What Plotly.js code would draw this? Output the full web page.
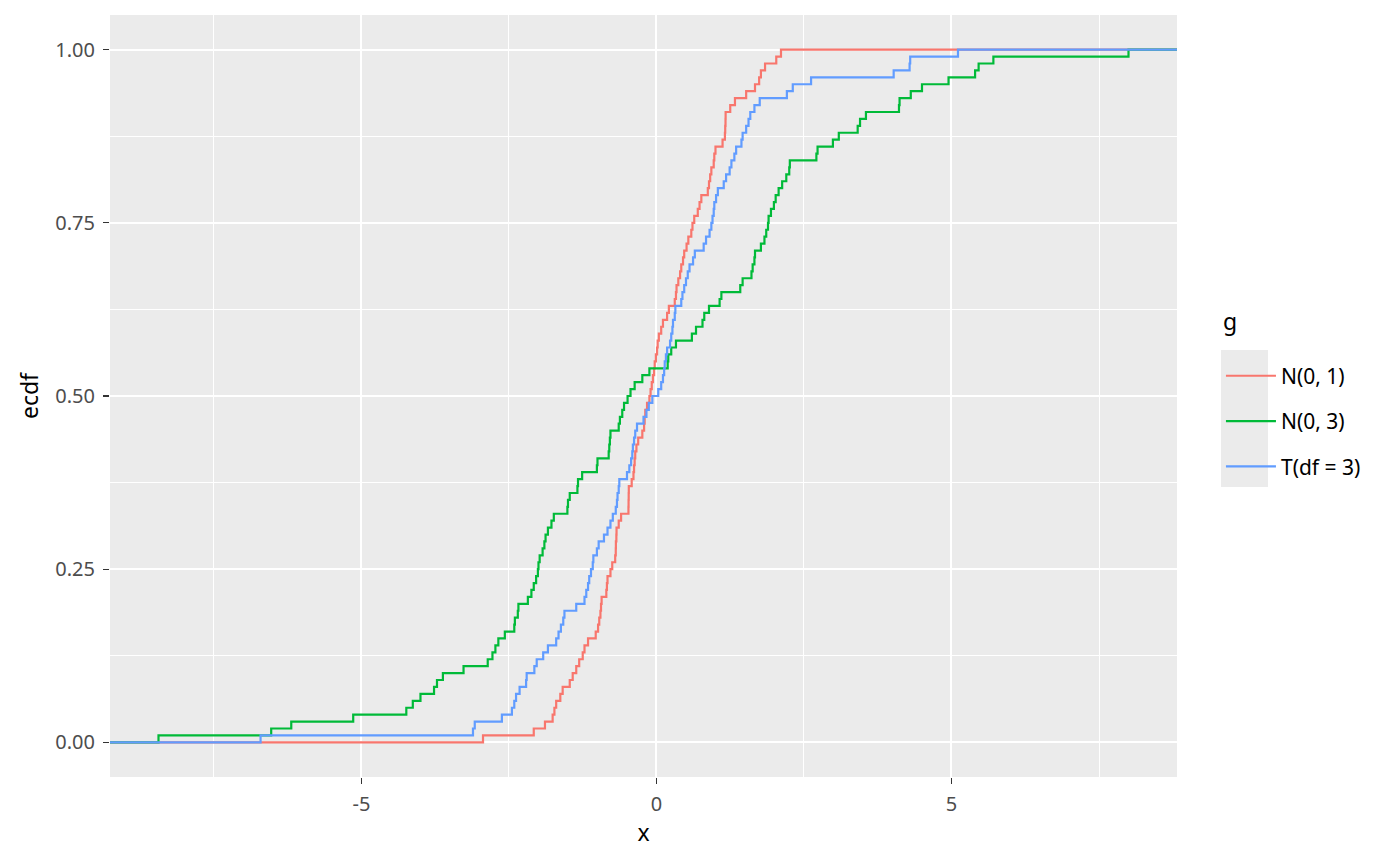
<!DOCTYPE html>
<html>
<head>
<meta charset="utf-8">
<script src="https://cdn.plot.ly/plotly-3.0.1.min.js"></script>
<style>
  html, body { margin: 0; padding: 0; background: #ffffff; }
  #chart { width: 1400px; height: 866px; }
</style>
</head>
<body>
<div id="chart"></div>
<script>
// Group names (legend labels)
const groups = ["N(0, 1)", "N(0, 3)", "T(df = 3)"];
const groupColors = ["#F8766D", "#00BA38", "#619CFF"];
const legendTitle = "g";

// Sorted sample values (100 per group)
const sampleN01 = [
  -2.94, -2.08, -1.89, -1.76, -1.73, -1.70, -1.63, -1.59, -1.47, -1.42,
  -1.36, -1.31, -1.25, -1.22, -1.16, -1.03, -0.99, -0.97, -0.95, -0.94,
  -0.93, -0.85, -0.84, -0.83, -0.78, -0.75, -0.70, -0.69, -0.688, -0.68,
  -0.677, -0.64, -0.60, -0.475, -0.473, -0.471, -0.469, -0.42, -0.39, -0.38,
  -0.37, -0.36, -0.34, -0.31, -0.24, -0.21, -0.20, -0.19, -0.16, -0.12,
  -0.10, -0.08, -0.06, -0.04, -0.03, -0.01, 0.01, 0.02, 0.04, 0.08,
  0.11, 0.18, 0.21, 0.31, 0.33, 0.34, 0.37, 0.40, 0.42, 0.45,
  0.47, 0.51, 0.54, 0.59, 0.61, 0.64, 0.70, 0.73, 0.76, 0.87,
  0.89, 0.91, 0.93, 0.97, 0.98, 1.00, 1.12, 1.16, 1.165, 1.17,
  1.172, 1.25, 1.33, 1.52, 1.67, 1.74, 1.77, 1.84, 2.03, 2.11
];
const sampleN03 = [
  -8.44, -6.53, -6.19, -5.14, -4.24, -4.13, -4.00, -3.77, -3.72, -3.62,
  -3.27, -2.86, -2.78, -2.73, -2.68, -2.57, -2.41, -2.40, -2.35, -2.34,
  -2.18, -2.12, -2.08, -2.04, -2.01, -2.00, -1.98, -1.93, -1.90, -1.88,
  -1.84, -1.78, -1.74, -1.51, -1.50, -1.47, -1.34, -1.33, -1.26, -1.01,
  -1.00, -0.81, -0.80, -0.79, -0.78, -0.64, -0.62, -0.58, -0.55, -0.49,
  -0.44, -0.37, -0.24, -0.12, 0.19, 0.20, 0.25, 0.33, 0.60, 0.67,
  0.78, 0.81, 0.89, 1.07, 1.10, 1.42, 1.46, 1.61, 1.63, 1.66,
  1.67, 1.77, 1.83, 1.86, 1.89, 1.90, 1.94, 1.99, 2.02, 2.07,
  2.13, 2.20, 2.25, 2.26, 2.71, 2.73, 2.99, 3.09, 3.41, 3.45,
  3.55, 4.11, 4.12, 4.31, 4.50, 4.95, 5.40, 5.46, 5.71, 8.00
];
const sampleT3 = [
  -6.71, -3.11, -3.08, -2.62, -2.45, -2.41, -2.38, -2.32, -2.21, -2.20,
  -2.07, -2.03, -1.92, -1.84, -1.70, -1.66, -1.62, -1.58, -1.56, -1.36,
  -1.22, -1.19, -1.16, -1.14, -1.11, -1.08, -1.07, -1.01, -0.98, -0.89,
  -0.83, -0.78, -0.74, -0.69, -0.67, -0.66, -0.64, -0.63, -0.50, -0.46,
  -0.43, -0.41, -0.40, -0.38, -0.36, -0.33, -0.22, -0.17, -0.13, -0.07,
  0.03, 0.08, 0.11, 0.13, 0.14, 0.16, 0.18, 0.23, 0.25, 0.27,
  0.28, 0.31, 0.32, 0.42, 0.44, 0.47, 0.50, 0.53, 0.56, 0.62,
  0.65, 0.80, 0.84, 0.90, 0.93, 0.95, 0.97, 0.98, 1.01, 1.04,
  1.14, 1.18, 1.24, 1.27, 1.32, 1.35, 1.44, 1.46, 1.52, 1.56,
  1.59, 1.66, 1.75, 2.21, 2.31, 2.62, 4.02, 4.29, 4.30, 5.11
];
const samples = [sampleN01, sampleN03, sampleT3];

// Axis ticks
const xTickVals = [-5, 0, 5];
const xTickText = ["-5", "0", "5"];
const xMinorVals = [-7.5, -2.5, 2.5, 7.5];
const yTickVals = [0, 0.25, 0.5, 0.75, 1];
const yTickText = ["0.00", "0.25", "0.50", "0.75", "1.00"];
const yMinorVals = [0.125, 0.375, 0.625, 0.875];

// Continuous-scale expansion (5% each side), like ggplot2
const all = samples.flat();
const dmin = Math.min(...all), dmax = Math.max(...all);
const pad = 0.05 * (dmax - dmin);
const xRange = [dmin - pad, dmax + pad];
const yRange = [-0.05, 1.05];

// ECDF step traces (padded to the panel edges like stat_ecdf's -Inf/Inf)
const traces = samples.map((s, gi) => {
  const sorted = s.slice().sort((a, b) => a - b);
  const n = sorted.length;
  const xs = [xRange[0]], ys = [0];
  sorted.forEach((v, i) => { xs.push(v); ys.push((i + 1) / n); });
  xs.push(xRange[1]); ys.push(1);
  return {
    type: "scatter", mode: "lines", name: groups[gi],
    x: xs, y: ys,
    line: { shape: "hv", color: groupColors[gi], width: 2.2 },
    legendgroup: "g" + gi,
    hoverinfo: "skip"
  };
});

const font = "Noto Sans, Open Sans, DejaVu Sans, sans-serif";
const tickFontSize = 20;
const legendFontSize = 21;
const titleFontSize = 23;
const layout = {
  width: 1400, height: 866,
  margin: { l: 110, r: 223, t: 15, b: 89 },
  paper_bgcolor: "#ffffff",
  plot_bgcolor: "#EBEBEB",
  font: { family: font, color: "#000000" },
  showlegend: true,
  legend: {
    x: 1.0412, xanchor: "left", y: 0.553, yanchor: "top",
    bgcolor: "rgba(0,0,0,0)",
    font: { family: font, size: legendFontSize, color: "#000000" },
    traceorder: "grouped", tracegroupgap: 15,
    itemwidth: 50
  },
  annotations: [
    { text: legendTitle, xref: "paper", yref: "paper", x: 1.0412, y: 0.598,
      xanchor: "left", yanchor: "middle", showarrow: false,
      font: { family: font, size: titleFontSize, color: "#000000" } }
  ],
  xaxis: {
    range: xRange, tickmode: "array", tickvals: xTickVals, ticktext: xTickText,
    showgrid: true, gridcolor: "#ffffff", gridwidth: 2,
    zeroline: false, showline: false,
    ticks: "outside", ticklen: 6, tickcolor: "#333333", tickwidth: 1.1,
    ticklabelstandoff: 3,
    tickfont: { family: font, size: tickFontSize, color: "#4D4D4D" },
    minor: { tickmode: "array", tickvals: xMinorVals, showgrid: true, gridcolor: "#ffffff", gridwidth: 1, ticks: "" },
    title: { text: "x", font: { family: font, size: titleFontSize, color: "#000000" }, standoff: 8 }
  },
  yaxis: {
    range: yRange, tickmode: "array", tickvals: yTickVals, ticktext: yTickText,
    showgrid: true, gridcolor: "#ffffff", gridwidth: 2,
    zeroline: false, showline: false,
    ticks: "outside", ticklen: 6, tickcolor: "#333333", tickwidth: 1.1,
    ticklabelstandoff: 4,
    tickfont: { family: font, size: tickFontSize, color: "#4D4D4D" },
    minor: { tickmode: "array", tickvals: yMinorVals, showgrid: true, gridcolor: "#ffffff", gridwidth: 1, ticks: "" },
    title: { text: "ecdf", font: { family: font, size: titleFontSize, color: "#000000" }, standoff: 10 }
  },
  shapes: [
    { type: "rect", xref: "paper", yref: "paper", layer: "below",
      x0: 1.0412, x1: 1.0853, y0: 0.3806, y1: 0.5604,
      fillcolor: "#EBEBEB", line: { width: 0 } }
  ]
};

Plotly.newPlot("chart", traces, layout, { staticPlot: true, displayModeBar: false });
</script>
</body>
</html>
